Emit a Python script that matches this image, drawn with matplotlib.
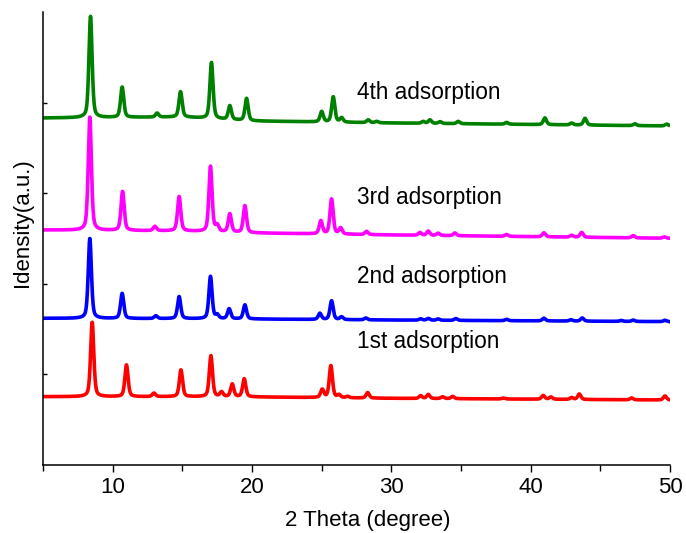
import numpy as np
import matplotlib
matplotlib.use('Agg')
import matplotlib.pyplot as plt

# peak positions (2 theta) and heights above baseline
peaks_1st = [8.53, 10.99, 12.96, 14.90, 17.05, 17.81, 18.58, 19.44, 25.04, 25.66, 26.24, 26.86,
             28.30, 32.10, 32.65, 33.68, 34.40, 38.03, 40.90, 41.45, 42.94, 43.49, 47.24, 49.64]
heights_1st = [0.821, 0.350, 0.038, 0.295, 0.453, 0.050, 0.140, 0.199, 0.088, 0.353, 0.030, 0.015,
               0.060, 0.030, 0.045, 0.020, 0.025, 0.010, 0.042, 0.025, 0.020, 0.060, 0.020, 0.045]

peaks_2nd = [8.36, 10.68, 13.10, 14.77, 17.02, 17.50, 18.36, 19.49, 24.87, 25.71, 26.43, 28.17,
             32.10, 32.65, 33.36, 34.63, 38.27, 40.95, 42.89, 43.70, 46.50, 47.36, 49.64]
heights_2nd = [0.883, 0.276, 0.030, 0.243, 0.467, 0.040, 0.110, 0.155, 0.068, 0.207, 0.030, 0.020,
               0.015, 0.020, 0.015, 0.020, 0.015, 0.030, 0.015, 0.035, 0.010, 0.015, 0.015]

peaks_3rd = [8.36, 10.71, 13.03, 14.77, 17.02, 17.50, 18.41, 19.49, 24.94, 25.71, 26.36, 28.22,
             32.05, 32.65, 33.36, 34.56, 38.27, 40.95, 42.94, 43.66, 47.36, 49.60]
heights_3rd = [1.251, 0.430, 0.047, 0.379, 0.721, 0.066, 0.201, 0.298, 0.143, 0.386, 0.066, 0.035,
               0.030, 0.047, 0.025, 0.030, 0.020, 0.044, 0.020, 0.053, 0.025, 0.015]

peaks_4th = [8.41, 10.68, 13.19, 14.87, 17.09, 18.41, 19.61, 25.00, 25.83, 26.43, 28.34, 28.94,
             32.29, 32.77, 33.49, 34.80, 38.27, 41.02, 42.94, 43.90, 47.48, 49.76]
heights_4th = [1.118, 0.334, 0.044, 0.279, 0.620, 0.152, 0.245, 0.114, 0.279, 0.047, 0.030, 0.015,
               0.020, 0.039, 0.020, 0.025, 0.020, 0.074, 0.020, 0.074, 0.020, 0.020]

# baseline level (offset of each stacked curve) at a few 2 theta points
bg_x = [5, 15, 20, 30, 50]
bg_1st = [0.754, 0.754, 0.751, 0.736, 0.717]
bg_2nd = [1.619, 1.615, 1.611, 1.600, 1.582]
bg_3rd = [2.594, 2.583, 2.561, 2.539, 2.502]
bg_4th = [3.830, 3.841, 3.797, 3.775, 3.742]

labels = ['1st adsorption', '2nd adsorption', '3rd adsorption', '4th adsorption']
label_y = [1.295, 2.005, 2.881, 4.036]
colors = ['#FF0000', '#0000FF', '#FF00FF', '#008000']

fwhm = 0.27
eta = 0.45


def pattern(tt, pos, h, bg):
    y = np.interp(tt, bg_x, bg)
    for p, a in zip(pos, h):
        d = (tt - p) / (fwhm / 2)
        y = y + a * (eta / (1 + d ** 2) + (1 - eta) * np.exp(-np.log(2) * d ** 2))
    return y


plt.rcParams['font.family'] = ['Liberation Sans', 'DejaVu Sans']
fig = plt.figure(figsize=(6.86, 5.33), dpi=100)
ax = fig.add_axes([0.0627, 0.1276, 0.914, 0.8499])

tt = np.linspace(5, 49.9, 3000)
series = [(peaks_1st, heights_1st, bg_1st), (peaks_2nd, heights_2nd, bg_2nd),
          (peaks_3rd, heights_3rd, bg_3rd), (peaks_4th, heights_4th, bg_4th)]
for (pos, h, bg), c, lab, ly in zip(series, colors, labels, label_y):
    ax.plot(tt, pattern(tt, pos, h, bg), color=c, lw=2.6, solid_joinstyle='round')
    ax.text(27.5, ly, lab, fontsize=16.3, va='baseline', ha='left', color='black')

ax.set_xlim(5, 50)
ax.set_ylim(0, 5)
ax.spines['top'].set_visible(False)
ax.spines['right'].set_visible(False)
ax.spines['left'].set_linewidth(1.1)
ax.spines['bottom'].set_linewidth(1.1)

ax.set_xticks([10, 20, 30, 40, 50])
ax.set_xticks([5, 15, 25, 35, 45], minor=True)
ax.tick_params(axis='x', which='major', direction='out', length=5, width=1.0, labelsize=16, pad=4)
ax.tick_params(axis='x', which='minor', direction='out', length=4, width=1.0)
ax.set_yticks([1, 2, 3, 4])
ax.set_yticklabels([])
ax.tick_params(axis='y', direction='in', length=3, width=1.0)

ax.set_xlabel('2 Theta (degree)', fontsize=16)
ax.xaxis.set_label_coords(0.5175, -0.099)
ax.set_ylabel('Idensity(a.u.)', fontsize=16)
ax.yaxis.set_label_coords(-0.016, 0.536)

fig.savefig('out.png', dpi=100)
